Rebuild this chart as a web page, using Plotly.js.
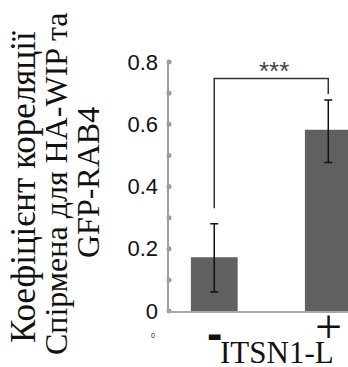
<!DOCTYPE html>
<html>
<head>
<meta charset="utf-8">
<script src="https://cdn.plot.ly/plotly-3.0.1.min.js"></script>
<style>html,body{margin:0;padding:0;background:#fff;}#chart{width:348px;height:367px;}</style>
</head>
<body>
<div id="chart"></div>
<script>
// ---- data ----
const categories = ["-", "+"];
const groupTitle = "ITSN1-L";
const values = [0.173, 0.582];
const errPlus = [0.107, 0.096];
const errMinus = [0.112, 0.105];
const yTickVals = [0, 0.2, 0.4, 0.6, 0.8];
const yTickText = ["0", "0.2", "0.4", "0.6", "0.8"];
const yDotVals = [0, 0.1, 0.2, 0.3, 0.4, 0.5, 0.6, 0.7, 0.8];
const yTitleLines = ["Коефіцієнт кореляції", "Спірмена для HA-WIP та", "GFP-RAB4"];
const sigLabel = "***";
const bracket = {leftY: 0.33, topY: 0.747, rightY: 0.697};

// ---- layout helpers ----
const W = 348, H = 367, L = 169, R = 0, T = 62, B = 56;
const px = x => (x - L) / (W - L - R);
const py = y => (H - B - y) / (H - T - B);
const xRange = [-0.397, 1.173];
const xIdx = categories.map((c, i) => i);

const traces = [
  {
    type: "bar",
    x: xIdx,
    y: values,
    width: 0.41,
    marker: {color: "#606060", line: {width: 0}},
    error_y: {type: "data", symmetric: false, array: errPlus, arrayminus: errMinus,
              color: "#111", thickness: 1.5, width: 4},
    hoverinfo: "none"
  },
  {
    type: "scatter",
    mode: "markers",
    x: yDotVals.map(() => xRange[0]),
    y: yDotVals,
    marker: {color: "#9a9a9a", size: 5},
    cliponaxis: false,
    hoverinfo: "none"
  }
];

const ann = [];
// y title lines
const titleX = [23, 56, 88];
const titleY = [187, 184, 183];
const titleSize = [35, 32, 32];
yTitleLines.forEach((t, i) => {
  ann.push({text: t, xref: "paper", yref: "paper", x: px(titleX[i]), y: py(titleY[i]),
    xanchor: "center", yanchor: "middle", textangle: -90, showarrow: false,
    font: {family: "Liberation Serif", size: titleSize[i], color: "#111"}});
});
// category labels
ann.push({text: categories[0], xref: "x", yref: "paper", x: xIdx[0], y: py(333),
  xanchor: "center", yanchor: "middle", showarrow: false,
  font: {family: "Liberation Sans", size: 46, color: "#111", weight: "bold"}});
ann.push({text: categories[1], xref: "x", yref: "paper", x: xIdx[1], y: py(326),
  xanchor: "center", yanchor: "middle", showarrow: false,
  font: {family: "Liberation Serif", size: 48, color: "#111"}});
ann.push({text: groupTitle, xref: "paper", yref: "paper", x: px(276.5), y: py(352),
  xanchor: "center", yanchor: "middle", showarrow: false,
  font: {family: "Liberation Serif", size: 31, color: "#111"}});
ann.push({text: "0", xref: "paper", yref: "paper", x: px(152.5), y: py(335),
  xanchor: "center", yanchor: "middle", showarrow: false,
  font: {family: "Liberation Sans", size: 7, color: "#222"}});
ann.push({text: sigLabel, xref: "x", yref: "y", x: 0.52, y: 0.77,
  xanchor: "center", yanchor: "middle", showarrow: false,
  font: {family: "Liberation Sans", size: 26, color: "#444"}});

const layout = {
  width: W, height: H,
  margin: {l: L, r: R, t: T, b: B, pad: 0},
  paper_bgcolor: "#fff", plot_bgcolor: "#fff",
  showlegend: false,
  xaxis: {range: xRange, showgrid: false, zeroline: false, showline: true,
          linecolor: "#a8a8a8", linewidth: 2, showticklabels: false, ticks: "",
          fixedrange: true},
  yaxis: {range: [0, 0.8], showgrid: false, zeroline: false, showline: true,
          linecolor: "#a0a0a0", linewidth: 2.5, tickvals: yTickVals, ticktext: yTickText,
          ticks: "", ticklabelstandoff: 4,
          tickfont: {family: "Liberation Sans", size: 22, color: "#111"}, fixedrange: true},
  shapes: [{
    type: "path", xref: "x", yref: "y",
    path: `M ${xIdx[0]} ${bracket.leftY} L ${xIdx[0]} ${bracket.topY} L ${xIdx[1]} ${bracket.topY} L ${xIdx[1]} ${bracket.rightY}`,
    line: {color: "#333", width: 1.5}
  }],
  annotations: ann
};

Plotly.newPlot("chart", traces, layout, {displayModeBar: false, staticPlot: true});
</script>
</body>
</html>
